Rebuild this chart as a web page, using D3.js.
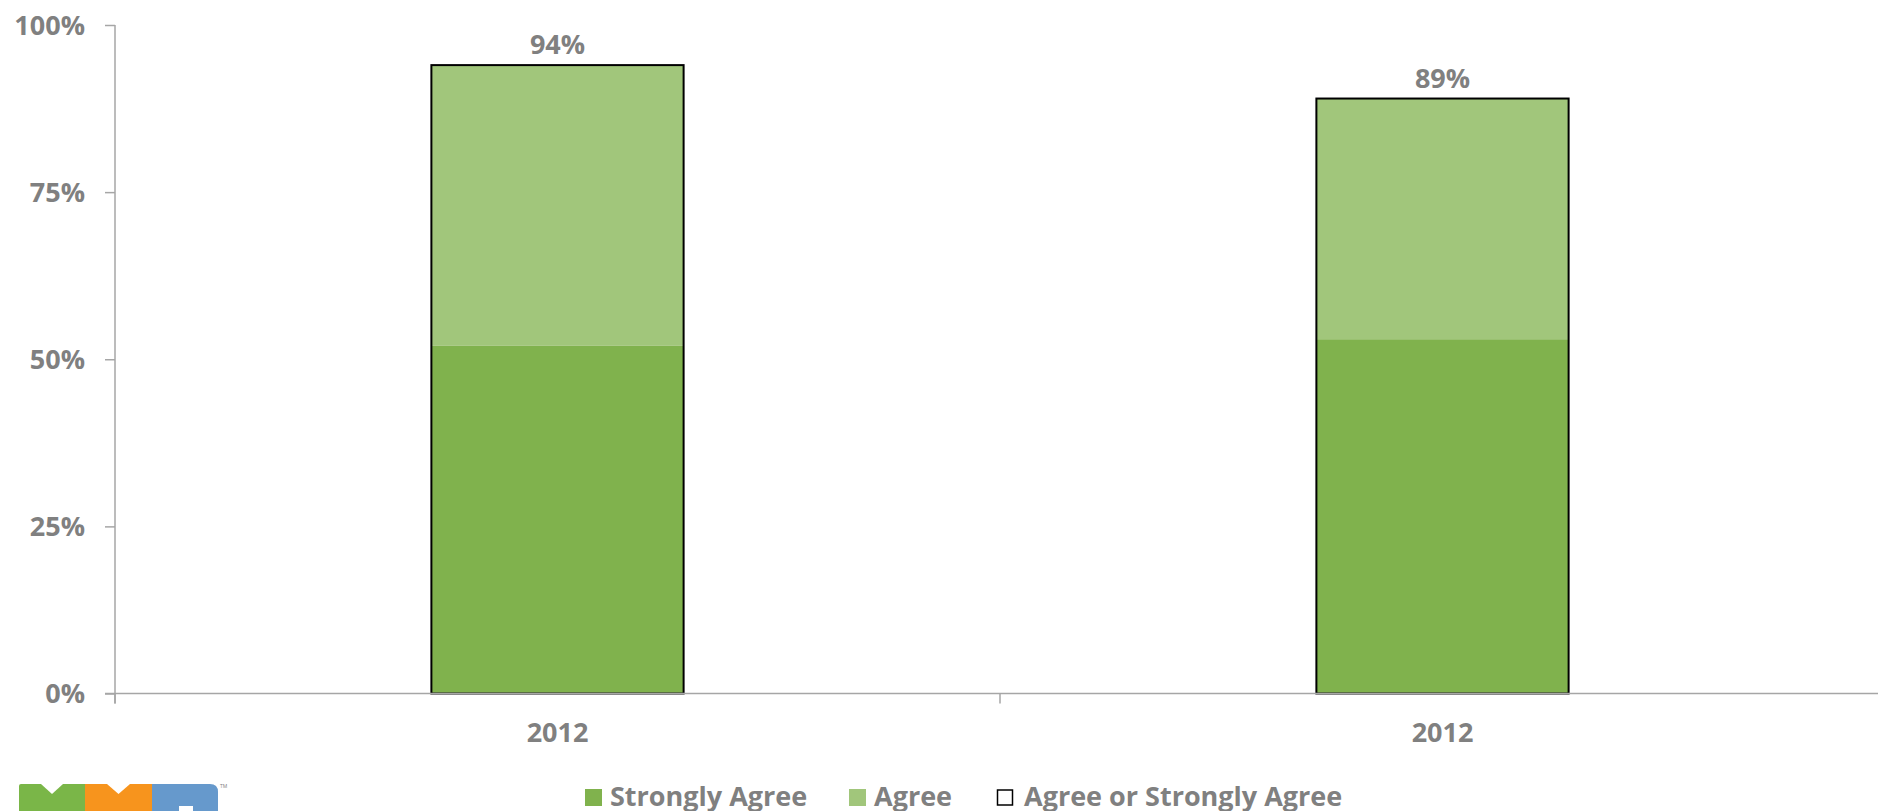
<!DOCTYPE html>
<html>
<head>
<meta charset="utf-8">
<script src="https://cdn.jsdelivr.net/npm/d3@7/dist/d3.min.js"></script>
<style>
  html, body { margin: 0; padding: 0; background: #fff; }
  svg { display: block; }
  text { font-family: "Open Sans", "DejaVu Sans", sans-serif; font-weight: 700; fill: #808080; }
</style>
</head>
<body>
<svg id="chart" width="1878" height="811"></svg>
<script>
// ---- data ----
const categories = ["2012", "2012"];
const stronglyAgree = [0.52, 0.53];
const agree = [0.42, 0.36];
const agreeOrStronglyAgree = [0.94, 0.89];
const yTicks = [0, 0.25, 0.5, 0.75, 1];
const seriesNames = ["Strongly Agree", "Agree", "Agree or Strongly Agree"];

// ---- layout ----
const W = 1878, H = 811;
const svg = d3.select("#chart");
const plotLeft = 115, plotRight = 1885, plotTop = 25, plotBottom = 693.5;
const colors = { strong: "#80B24D", agree: "#A1C67B" };
const axisColor = "#A6A6A6";
const fontSize = "27px";

const idx = categories.map((_, i) => i);
const x = d3.scaleBand().domain(idx).range([plotLeft, plotRight]).paddingInner(0.715).paddingOuter(0.3575);
const y = d3.scaleLinear().domain([0, 1]).range([plotBottom, plotTop]);

// bars: strongly agree
svg.append("g").selectAll("rect").data(idx).join("rect")
  .attr("x", i => x(i)).attr("width", x.bandwidth())
  .attr("y", i => y(stronglyAgree[i]))
  .attr("height", i => y(0) - y(stronglyAgree[i]))
  .attr("fill", colors.strong);
// agree stacked
svg.append("g").selectAll("rect").data(idx).join("rect")
  .attr("x", i => x(i)).attr("width", x.bandwidth())
  .attr("y", i => y(stronglyAgree[i] + agree[i]))
  .attr("height", i => y(stronglyAgree[i]) - y(stronglyAgree[i] + agree[i]))
  .attr("fill", colors.agree);
// total outline
svg.append("g").selectAll("rect").data(idx).join("rect")
  .attr("x", i => x(i)).attr("width", x.bandwidth())
  .attr("y", i => y(agreeOrStronglyAgree[i]))
  .attr("height", i => y(0) - y(agreeOrStronglyAgree[i]))
  .attr("fill", "none").attr("stroke", "#000").attr("stroke-width", 2);

// labels
svg.append("g").selectAll("text").data(idx).join("text")
  .attr("x", i => x(i) + x.bandwidth() / 2)
  .attr("y", i => y(agreeOrStronglyAgree[i]) - 11)
  .attr("text-anchor", "middle")
  .style("font-size", fontSize)
  .text(i => d3.format(".0%")(agreeOrStronglyAgree[i]));

// y axis
const yAxis = svg.append("g").attr("transform", `translate(${plotLeft},0)`)
  .call(d3.axisLeft(y).tickValues(yTicks).tickFormat(d3.format(".0%")).tickSize(10).tickPadding(20));
yAxis.selectAll("line").attr("stroke", axisColor).attr("stroke-width", 1.5);
yAxis.select(".domain").remove();
yAxis.selectAll("text").style("font-size", fontSize).attr("fill", "#808080").attr("dy", "0.35em");
svg.append("line").attr("x1", plotLeft).attr("x2", plotLeft).attr("y1", plotTop).attr("y2", plotBottom + 10)
  .attr("stroke", axisColor).attr("stroke-width", 1.5);

// x axis
svg.append("line").attr("x1", plotLeft - 10).attr("x2", W).attr("y1", plotBottom).attr("y2", plotBottom)
  .attr("stroke", axisColor).attr("stroke-width", 1.5);
const boundaries = idx.map(i => x(i) - x.step() * x.paddingInner() / 2).concat([x(idx.length - 1) + x.bandwidth() + x.step() * x.paddingInner() / 2]);
svg.append("g").selectAll("line").data(boundaries).join("line")
  .attr("x1", d => d).attr("x2", d => d).attr("y1", plotBottom).attr("y2", plotBottom + 10)
  .attr("stroke", axisColor).attr("stroke-width", 1.5);
const xAxis = svg.append("g").attr("transform", `translate(0,${plotBottom})`)
  .call(d3.axisBottom(x).tickSize(0).tickPadding(29).tickFormat(i => categories[i]));
xAxis.select(".domain").remove();
xAxis.selectAll("text").style("font-size", fontSize).attr("fill", "#808080");

// legend
const legendItems = [
  { name: seriesNames[0], fill: colors.strong, stroke: "none", x: 585 },
  { name: seriesNames[1], fill: colors.agree, stroke: "none", x: 849 },
  { name: seriesNames[2], fill: "#fff", stroke: "#000", x: 996 }
];
const lg = svg.append("g").selectAll("g").data(legendItems).join("g")
  .attr("transform", d => `translate(${d.x},797)`);
lg.append("rect").attr("x", d => d.stroke === "none" ? 0 : 1.5).attr("y", d => d.stroke === "none" ? -8 : -7)
  .attr("width", d => d.stroke === "none" ? 17 : 15).attr("height", d => d.stroke === "none" ? 17 : 15)
  .attr("fill", d => d.fill).attr("stroke", d => d.stroke).attr("stroke-width", 1.5);
lg.append("text").attr("x", d => d.stroke === "none" ? 25 : 28).attr("dy", "0.35em")
  .style("font-size", fontSize).text(d => d.name);

// NYC logo (partially visible)
const logo = svg.append("g").attr("transform", "translate(19,784)");
logo.append("path").attr("d", "M0,2 Q0,0 2,0 L66,0 L66,30 L0,30 Z").attr("fill", "#7AB648");
logo.append("path").attr("d", "M22,0 L44,0 L33,10 Z").attr("fill", "#fff");
logo.append("rect").attr("x", 66).attr("width", 67).attr("height", 30).attr("fill", "#F7941D");
logo.append("path").attr("d", "M88,0 L111,0 L99.5,10 Z").attr("fill", "#fff");
logo.append("path").attr("d", "M133,0 L191,0 Q199,0 199,8 L199,30 L133,30 Z").attr("fill", "#6699CC");
logo.append("rect").attr("x", 160).attr("y", 22).attr("width", 14).attr("height", 8).attr("fill", "#fff");
logo.append("text").attr("x", 201).attr("y", 4).style("font-size", "5px").style("font-weight", 400).text("TM");
</script>
</body>
</html>
